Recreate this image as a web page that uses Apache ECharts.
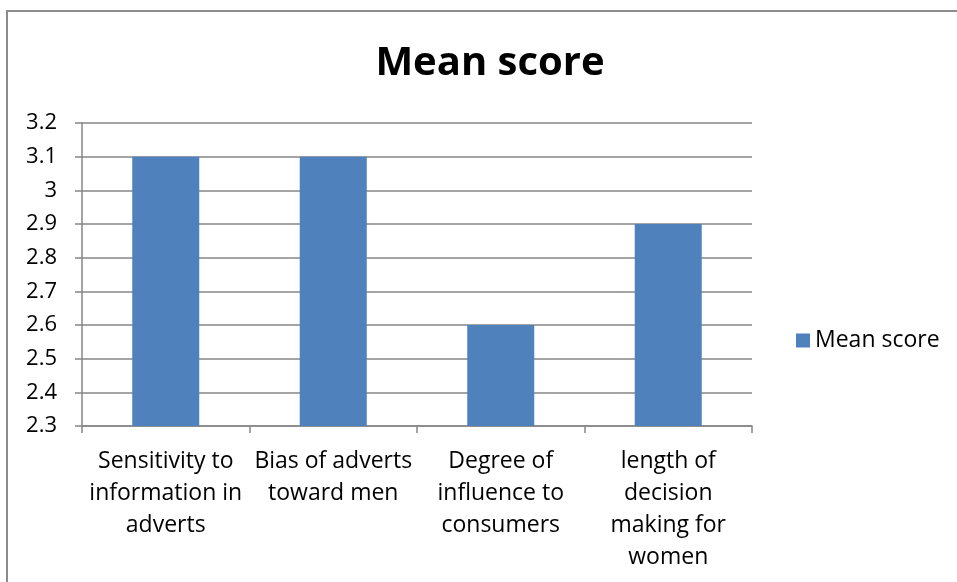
<!DOCTYPE html>
<html>
<head>
<meta charset="utf-8">
<script src="https://cdn.jsdelivr.net/npm/echarts@6/dist/echarts.min.js"></script>
<style>
  html, body { margin: 0; padding: 0; background: #fff; }
  #chart { width: 957px; height: 582px; }
</style>
</head>
<body>
<div id="chart"></div>
<script>
// Survey dimensions and their mean scores
const categories = [
  'Sensitivity to\ninformation in\nadverts',
  'Bias of adverts\ntoward men',
  'Degree of\ninfluence to\nconsumers',
  'length of\ndecision\nmaking for\nwomen'
];
const meanScores = [3.1, 3.1, 2.6, 2.9];
const seriesName = 'Mean score';
const titleText = 'Mean score';

const font = '"Open Sans", Lato, sans-serif';
const chart = echarts.init(document.getElementById('chart'), null, { renderer: 'canvas' });

chart.setOption({
  animation: false,
  backgroundColor: '#ffffff',
  title: {
    text: titleText,
    left: 485,
    textAlign: 'center',
    top: 39,
    textStyle: { fontFamily: font, fontSize: 40, fontWeight: 'bold', color: '#000' }
  },
  graphic: [{
    type: 'rect',
    shape: { x: 7, y: 11, width: 1200, height: 1000 },
    style: { fill: 'none', stroke: '#8c8c8c', lineWidth: 2 },
    silent: true
  }],
  legend: {
    data: [seriesName],
    left: 791,
    top: 324,
    itemWidth: 14,
    itemHeight: 14,
    itemGap: 7,
    icon: 'rect',
    textStyle: { fontFamily: font, fontSize: 23, color: '#000' }
  },
  grid: { left: 82, right: 205, top: 123, bottom: 156, containLabel: false },
  xAxis: {
    type: 'category',
    data: categories,
    axisLine: { lineStyle: { color: '#868686', width: 1.5 } },
    axisTick: { show: true, length: 7, alignWithLabel: false, lineStyle: { color: '#868686', width: 1.5 } },
    axisLabel: {
      interval: 0,
      margin: 19,
      lineHeight: 32,
      fontFamily: font,
      fontSize: 23,
      color: '#000'
    }
  },
  yAxis: {
    type: 'value',
    min: 2.3,
    max: 3.2,
    interval: 0.1,
    axisLine: { show: true, lineStyle: { color: '#868686', width: 1.5 } },
    axisTick: { show: true, length: 7, lineStyle: { color: '#868686', width: 1.5 } },
    splitLine: { lineStyle: { color: '#868686', width: 1.5 } },
    axisLabel: {
      margin: 25,
      fontFamily: font,
      fontSize: 22,
      color: '#000',
      formatter: v => String(Math.round(v * 10) / 10)
    }
  },
  series: [{
    name: seriesName,
    type: 'bar',
    data: meanScores,
    barWidth: '40%',
    itemStyle: { color: '#4f81bd' }
  }]
});
</script>
</body>
</html>
